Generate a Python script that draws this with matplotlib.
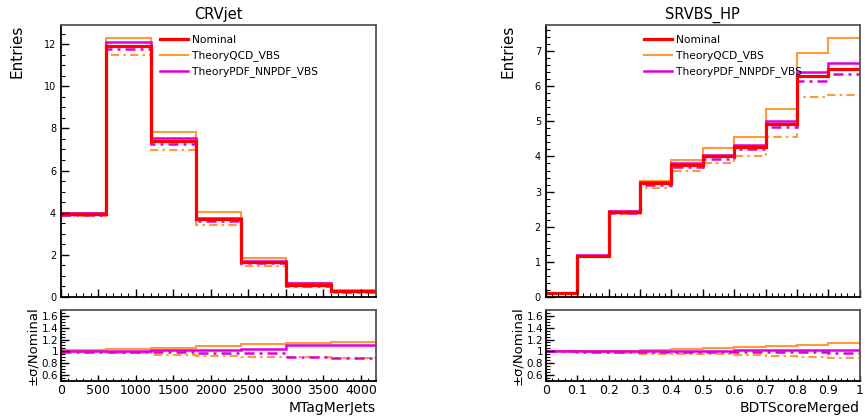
import matplotlib
matplotlib.use("Agg")
import matplotlib.pyplot as plt
from matplotlib.ticker import MultipleLocator
import numpy as np

# CRVjet region, binned in MTagMerJets
crv_edges = [0, 600, 1200, 1800, 2400, 3000, 3600, 4200]
crv_nominal = [3.93, 11.92, 7.40, 3.68, 1.64, 0.58, 0.27]
crv_qcd_up = [4.00, 12.30, 7.85, 4.02, 1.84, 0.665, 0.315]
crv_qcd_dn = [3.86, 11.50, 6.98, 3.40, 1.48, 0.52, 0.24]
crv_pdf_up = [3.96, 12.08, 7.55, 3.76, 1.70, 0.64, 0.30]
crv_pdf_dn = [3.88, 11.76, 7.28, 3.60, 1.59, 0.52, 0.24]

# SRVBS_HP region, binned in BDTScoreMerged
sr_edges = [0.0, 0.1, 0.2, 0.3, 0.4, 0.5, 0.6, 0.7, 0.8, 0.9, 1.0]
sr_nominal = [0.10, 1.17, 2.42, 3.23, 3.75, 4.00, 4.26, 4.92, 6.28, 6.50]
sr_qcd_up = [0.10, 1.17, 2.45, 3.31, 3.89, 4.24, 4.56, 5.35, 6.95, 7.38]
sr_qcd_dn = [0.10, 1.16, 2.37, 3.10, 3.60, 3.81, 4.00, 4.56, 5.70, 5.76]
sr_pdf_up = [0.10, 1.18, 2.44, 3.27, 3.80, 4.05, 4.33, 5.00, 6.40, 6.66]
sr_pdf_dn = [0.10, 1.16, 2.40, 3.18, 3.70, 3.93, 4.21, 4.85, 6.16, 6.35]

RED = "#ff0000"
ORANGE = "#ff9a3c"
MAGENTA = "#dd00dd"
FRAME = "#555555"
DASHDOT = (0, (4, 2, 1.2, 2))


def style_axis(ax):
	"""ROOT-like frame: ticks inside, gray outer frame."""
	ax.tick_params(which="both", direction="in", top=False, right=False,
		colors="black", labelsize=7)
	ax.tick_params(which="major", length=6, width=1.0)
	ax.tick_params(which="minor", length=3, width=0.8)
	for side in ("top", "right"):
		ax.spines[side].set_color(FRAME)
		ax.spines[side].set_linewidth(1.3)
	for side in ("left", "bottom"):
		ax.spines[side].set_color("black")
		ax.spines[side].set_linewidth(1.3)


def draw_region(fig, rect_top, rect_bot, edges, nom, qup, qdn, pup, pdn,
		title, xlabel, xmajor, xminor, ymajor, yminor, xfmt):
	ax = fig.add_axes(rect_top)
	ax_r = fig.add_axes(rect_bot)

	# variations first, nominal on top
	ax.stairs(qup, edges, baseline=None, color=ORANGE, lw=1.5, label="TheoryQCD_VBS")
	ax.stairs(qdn, edges, baseline=None, color=ORANGE, lw=1.5, ls=DASHDOT)
	ax.stairs(pup, edges, baseline=None, color=MAGENTA, lw=1.8, label="TheoryPDF_NNPDF_VBS")
	ax.stairs(pdn, edges, baseline=None, color=MAGENTA, lw=1.8, ls=DASHDOT)
	ax.stairs(nom, edges, baseline=None, color=RED, lw=2.3, label="Nominal")

	ymax = max(max(qup), max(pup), max(nom)) * 1.05
	ax.set_xlim(edges[0], edges[-1])
	ax.set_ylim(0, ymax)
	ax.xaxis.set_major_locator(MultipleLocator(xmajor))
	ax.xaxis.set_minor_locator(MultipleLocator(xminor))
	ax.yaxis.set_major_locator(MultipleLocator(ymajor))
	ax.yaxis.set_minor_locator(MultipleLocator(yminor))
	ax.set_xticklabels([])
	style_axis(ax)
	ax.set_title(title, fontsize=10.5, pad=4)
	ax.set_ylabel("Entries", fontsize=11, loc="top", labelpad=14)

	handles, labels = ax.get_legend_handles_labels()
	order = [2, 0, 1]
	ax.legend([handles[i] for i in order], [labels[i] for i in order],
		loc="upper left", bbox_to_anchor=(0.29, 0.99), frameon=False,
		fontsize=7.7, handlelength=2.6, handletextpad=0.4, labelspacing=0.5,
		borderaxespad=0.3)

	# ratio panel
	nom_a = np.asarray(nom)
	ax_r.stairs(np.asarray(qup) / nom_a, edges, baseline=None, color=ORANGE, lw=1.5)
	ax_r.stairs(np.asarray(qdn) / nom_a, edges, baseline=None, color=ORANGE, lw=1.5, ls=DASHDOT)
	ax_r.stairs(np.asarray(pup) / nom_a, edges, baseline=None, color=MAGENTA, lw=1.8)
	ax_r.stairs(np.asarray(pdn) / nom_a, edges, baseline=None, color=MAGENTA, lw=1.8, ls=DASHDOT)
	ax_r.set_xlim(edges[0], edges[-1])
	ax_r.set_ylim(0.5, 1.7)
	ax_r.xaxis.set_major_locator(MultipleLocator(xmajor))
	ax_r.xaxis.set_minor_locator(MultipleLocator(xminor))
	ax_r.yaxis.set_minor_locator(MultipleLocator(0.05))
	ax_r.set_yticks([0.6, 0.8, 1.0, 1.2, 1.4, 1.6])
	ax_r.set_yticklabels(["0.6", "0.8", "1", "1.2", "1.4", "1.6"])
	ax_r.xaxis.set_major_formatter(xfmt)
	style_axis(ax_r)
	ax_r.tick_params(axis="x", which="major", labelsize=9, length=4, pad=2)
	ax_r.tick_params(axis="x", which="minor", length=2)
	ax_r.tick_params(axis="y", labelsize=7.5, pad=2)
	ax_r.set_ylabel("±σ/Nominal", fontsize=9.5, labelpad=2)
	ax_r.set_xlabel(xlabel, fontsize=10, loc="right", labelpad=3)
	return ax, ax_r


fig = plt.figure(figsize=(8.65, 4.2), dpi=100)

draw_region(fig, [0.0705, 0.293, 0.364, 0.648], [0.0705, 0.093, 0.364, 0.169],
	crv_edges, crv_nominal, crv_qcd_up, crv_qcd_dn, crv_pdf_up, crv_pdf_dn,
	"CRVjet", "MTagMerJets", 500, 100, 2, 0.5,
	plt.FuncFormatter(lambda v, p: f"{v:g}"))

draw_region(fig, [0.631, 0.293, 0.363, 0.648], [0.631, 0.093, 0.363, 0.169],
	sr_edges, sr_nominal, sr_qcd_up, sr_qcd_dn, sr_pdf_up, sr_pdf_dn,
	"SRVBS_HP", "BDTScoreMerged", 0.1, 0.02, 1, 0.2,
	plt.FuncFormatter(lambda v, p: f"{round(v, 2):g}"))

fig.savefig("out.png", dpi=100)
